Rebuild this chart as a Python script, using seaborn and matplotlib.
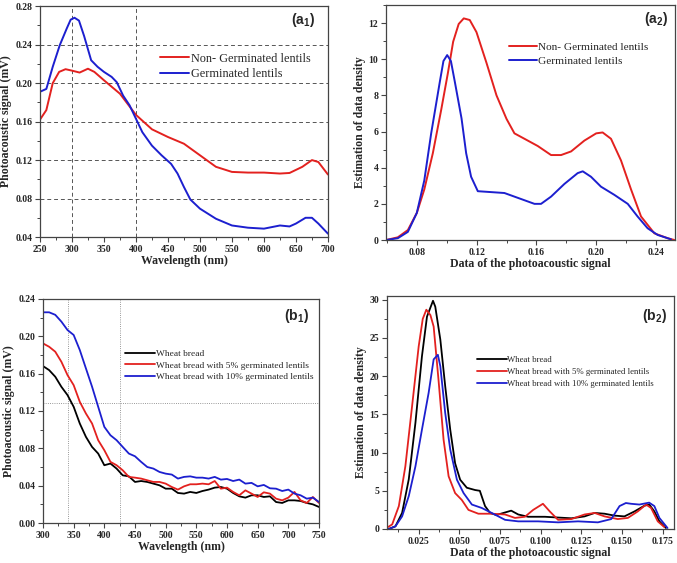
import numpy as np
import pandas as pd
import matplotlib
matplotlib.use("Agg")
import matplotlib.pyplot as plt
from matplotlib.ticker import MultipleLocator, FormatStrFormatter
import seaborn as sns

# -------------------------
# (a1) photoacoustic spectra of lentils
# -------------------------
a1_wl_red = [250, 260, 270, 280, 290, 300, 312, 325, 335, 350, 375, 400, 425, 450,
             475, 500, 525, 550, 575, 600, 625, 640, 660, 675, 685, 700]
a1_non_germ = [0.162, 0.172, 0.200, 0.2117, 0.2145, 0.213, 0.211, 0.215, 0.2117, 0.203,
               0.189, 0.167, 0.152, 0.144, 0.137, 0.125, 0.113, 0.1077, 0.107, 0.107,
               0.106, 0.1066, 0.113, 0.120, 0.118, 0.105]
a1_wl_blue = [250, 260, 270, 281, 292, 298, 304, 311, 319, 330, 340, 350, 362, 370, 380,
              390, 400, 410, 425, 440, 455, 465, 475, 485, 500, 525, 550, 575, 600, 625,
              640, 650, 665, 675, 685, 700]
a1_germ = [0.191, 0.194, 0.217, 0.2395, 0.257, 0.266, 0.268, 0.265, 0.249, 0.2238, 0.217,
           0.2117, 0.2065, 0.201, 0.187, 0.177, 0.163, 0.149, 0.135, 0.125, 0.116, 0.106,
           0.092, 0.079, 0.0695, 0.059, 0.052, 0.0497, 0.0487, 0.052, 0.051, 0.054, 0.060,
           0.060, 0.054, 0.0435]

# -------------------------
# (a2) density estimates for lentils
# -------------------------
a2_x_red = [0.0595, 0.0673, 0.074, 0.080, 0.085, 0.0907, 0.0963, 0.1007, 0.1043, 0.1080,
            0.1114, 0.1154, 0.1199, 0.1266, 0.1333, 0.140, 0.1453, 0.152, 0.1609, 0.1698,
            0.1765, 0.1832, 0.1921, 0.200, 0.2043, 0.2099, 0.2166, 0.2233, 0.230, 0.2389,
            0.2478, 0.2523]
a2_non_germ = [0.0, 0.15, 0.55, 1.5, 2.8, 4.8, 7.2, 9.2, 10.97, 11.95, 12.26, 12.17, 11.5,
               9.8, 8.0, 6.7, 5.9, 5.6, 5.2, 4.7, 4.7, 4.9, 5.5, 5.9, 5.95, 5.6, 4.4, 2.8,
               1.3, 0.37, 0.1, 0.0]
a2_x_blue = [0.0595, 0.0673, 0.074, 0.080, 0.085, 0.0896, 0.0954, 0.0978, 0.1003, 0.1028,
             0.1054, 0.1099, 0.113, 0.1163, 0.1208, 0.1297, 0.1386, 0.1453, 0.152, 0.1587,
             0.1631, 0.1698, 0.1787, 0.1876, 0.191, 0.1965, 0.2032, 0.2121, 0.2211, 0.2277,
             0.2344, 0.2411, 0.250]
a2_germ = [0.0, 0.1, 0.45, 1.5, 3.3, 5.9, 8.76, 9.9, 10.23, 9.9, 8.76, 6.73, 4.8, 3.5, 2.7,
           2.65, 2.6, 2.4, 2.2, 2.0, 2.0, 2.4, 3.1, 3.7, 3.8, 3.5, 2.95, 2.5, 2.0, 1.3, 0.65,
           0.28, 0.04]

# -------------------------
# (b1) photoacoustic spectra of breads
# -------------------------
b1_wl = [300, 310, 320, 330, 340, 350, 360, 370, 380, 390, 400, 410, 420, 430, 440, 450,
         460, 470, 480, 490, 500, 510, 520, 530, 540, 550, 560, 570, 580, 590, 600, 610,
         620, 630, 640, 650, 660, 670, 680, 690, 700, 710, 720, 730, 740, 750]
b1_wheat = [0.1681, 0.1638, 0.1567, 0.1459, 0.137, 0.1245, 0.1066, 0.0923, 0.0815, 0.0744,
            0.0619, 0.0637, 0.0583, 0.0511, 0.050, 0.044, 0.045, 0.044, 0.0422, 0.0404,
            0.0368, 0.0368, 0.0322, 0.0315, 0.0333, 0.0322, 0.0343, 0.0358, 0.0379, 0.0386,
            0.0368, 0.0322, 0.0286, 0.0272, 0.0297, 0.0297, 0.0279, 0.0286, 0.0225, 0.0215,
            0.0243, 0.0243, 0.0236, 0.0215, 0.020, 0.0172]
b1_wheat_5 = [0.1924, 0.1888, 0.1835, 0.1727, 0.1584, 0.1477, 0.1298, 0.1173, 0.1066,
              0.0887, 0.078, 0.0655, 0.0619, 0.0565, 0.0494, 0.0486, 0.0476, 0.0458, 0.044,
              0.044, 0.0422, 0.0386, 0.0358, 0.0393, 0.0415, 0.0415, 0.0422, 0.0415, 0.045,
              0.0368, 0.0379, 0.0333, 0.0297, 0.035, 0.0315, 0.0279, 0.0329, 0.0315, 0.0261,
              0.0243, 0.0272, 0.0333, 0.0243, 0.0215, 0.0279, 0.0215]
b1_wheat_10 = [0.2257, 0.2257, 0.223, 0.2157, 0.2067, 0.2014, 0.1853, 0.1656, 0.146,
               0.1245, 0.103, 0.094, 0.0887, 0.0815, 0.0744, 0.0715, 0.0655, 0.060, 0.0583,
               0.0547, 0.0529, 0.0519, 0.0476, 0.0494, 0.050, 0.0486, 0.0486, 0.0476,
               0.0494, 0.0465, 0.0472, 0.045, 0.0465, 0.0422, 0.043, 0.0393, 0.0408, 0.0372,
               0.0368, 0.0343, 0.0358, 0.0315, 0.0297, 0.0261, 0.0272, 0.0225]

# -------------------------
# (b2) density estimates for breads
# -------------------------
b2_x_black = [0.0066, 0.0107, 0.0148, 0.0189, 0.023, 0.027, 0.0301, 0.0338, 0.0352, 0.0383,
              0.0413, 0.0444, 0.0474, 0.0505, 0.0546, 0.0597, 0.0626, 0.0658, 0.0689, 0.0728,
              0.0819, 0.0862, 0.0923, 0.1026, 0.1107, 0.1189, 0.127, 0.1332, 0.1393, 0.1454,
              0.1515, 0.1577, 0.1638, 0.1668, 0.1699, 0.173, 0.177]
b2_wheat = [0.0, 0.35, 2.1, 6.5, 13.9, 22.6, 27.8, 29.87, 29.1, 24.8, 18.7, 13.0, 8.6, 6.45,
            5.4, 5.1, 5.0, 3.0, 2.1, 1.83, 2.4, 1.9, 1.6, 1.6, 1.5, 1.4, 1.65, 2.1, 2.0, 1.75,
            1.65, 2.3, 3.05, 3.2, 2.3, 1.0, 0.13]
b2_x_red = [0.0062, 0.0087, 0.0128, 0.0168, 0.0209, 0.025, 0.0275, 0.0297, 0.0322, 0.0342,
            0.0372, 0.0403, 0.0434, 0.0474, 0.0515, 0.0556, 0.0617, 0.0699, 0.0781, 0.0842,
            0.0903, 0.0954, 0.1014, 0.1056, 0.1107, 0.1189, 0.127, 0.1332, 0.1393, 0.1474,
            0.1536, 0.1597, 0.1648, 0.1679, 0.172, 0.176]
b2_wheat_5 = [0.26, 0.6, 3.0, 8.2, 16.0, 23.9, 27.5, 28.7, 28.0, 26.5, 19.5, 11.7, 6.9, 4.7,
              3.8, 2.5, 2.0, 2.0, 1.9, 1.45, 1.6, 2.5, 3.3, 2.3, 1.2, 1.3, 1.9, 2.1, 1.65,
              1.3, 1.45, 2.3, 3.2, 2.75, 1.0, 0.26]
b2_x_blue = [0.0066, 0.0107, 0.0148, 0.0189, 0.023, 0.027, 0.0311, 0.0342, 0.0368, 0.0383,
             0.0413, 0.0444, 0.0485, 0.0526, 0.0577, 0.0638, 0.0699, 0.0781, 0.0862, 0.0985,
             0.1107, 0.123, 0.1352, 0.1434, 0.1485, 0.1524, 0.1556, 0.1607, 0.1667, 0.1699,
             0.173, 0.178]
b2_wheat_10 = [0.0, 0.35, 1.65, 4.3, 8.2, 13.0, 17.8, 22.2, 22.8, 21.3, 15.2, 10.4, 6.45, 4.7,
               3.2, 2.75, 2.1, 1.2, 1.0, 1.0, 0.87, 1.0, 0.87, 1.3, 3.0, 3.4, 3.3, 3.2, 3.45,
               3.0, 1.45, 0.13]

lentil_labels = ["Non- Germinated lentils", "Germinated lentils"]
bread_labels = ["Wheat bread", "Wheat bread with 5% germinated lentils",
                "Wheat bread with 10% germinated lentils"]

RED = "#e3211f"
BLUE = "#1c1fcf"
BLACK = "#000000"

sns.set_style("ticks")
plt.rcParams["font.family"] = ["Liberation Serif", "DejaVu Serif"]
plt.rcParams["mathtext.fontset"] = "custom"
plt.rcParams["mathtext.rm"] = "Liberation Sans:bold"
plt.rcParams["mathtext.bf"] = "Liberation Sans:bold"
plt.rcParams["axes.edgecolor"] = "#444444"
plt.rcParams["axes.linewidth"] = 0.9


def long_df(pairs):
    frames = []
    for label, xs, ys in pairs:
        frames.append(pd.DataFrame({"x": xs, "y": ys, "series": label}))
    return pd.concat(frames, ignore_index=True)


def style_axes(ax, xlabel, ylabel, xmaj, ymaj, xfmt, yfmt, xlim, ylim):
    ax.set_xlim(*xlim)
    ax.set_ylim(*ylim)
    ax.xaxis.set_major_locator(MultipleLocator(xmaj))
    ax.xaxis.set_minor_locator(MultipleLocator(xmaj / 2))
    ax.yaxis.set_major_locator(MultipleLocator(ymaj))
    ax.yaxis.set_minor_locator(MultipleLocator(ymaj / 2))
    ax.xaxis.set_major_formatter(FormatStrFormatter(xfmt))
    ax.yaxis.set_major_formatter(FormatStrFormatter(yfmt))
    ax.tick_params(which="major", direction="out", length=3.5, width=0.8, labelsize=7,
                   color="#444444", pad=2)
    ax.tick_params(which="minor", direction="out", length=2, width=0.7, color="#444444")
    for lab in ax.get_xticklabels() + ax.get_yticklabels():
        lab.set_fontweight("bold")
    ax.set_xlabel(xlabel, fontsize=8.5, fontweight="bold", labelpad=1)
    ax.set_ylabel(ylabel, fontsize=8.5, fontweight="bold", labelpad=2)
    for s in ax.spines.values():
        s.set_visible(True)


fig = plt.figure(figsize=(6.77, 5.63), dpi=100)
ax1 = fig.add_axes([0.059, 0.579, 0.4254, 0.410])
ax2 = fig.add_axes([0.570, 0.5737, 0.427, 0.4174])
ax3 = fig.add_axes([0.0635, 0.0710, 0.4077, 0.398])
ax4 = fig.add_axes([0.5716, 0.0604, 0.424, 0.4139])

# ---- a1
for yv in [0.08, 0.12, 0.16, 0.20, 0.24]:
    ax1.axhline(yv, color="#555555", lw=0.7, ls=(0, (4, 3)), zorder=0)
for xv in [300, 400]:
    ax1.axvline(xv, color="#555555", lw=0.7, ls=(0, (4, 3)), zorder=0)
d = long_df([(lentil_labels[0], a1_wl_red, a1_non_germ),
             (lentil_labels[1], a1_wl_blue, a1_germ)])
sns.lineplot(data=d, x="x", y="y", hue="series", palette=[RED, BLUE], lw=1.4, ax=ax1,
             estimator=None, sort=False)
style_axes(ax1, "Wavelength (nm)", "Photoacoustic signal (mV)", 50, 0.04, "%d", "%.2f",
           (250, 700), (0.04, 0.28))
ax1.legend(loc="upper left", bbox_to_anchor=(0.40, 0.82), frameon=False, fontsize=8.8,
           handlelength=2.4, handletextpad=0.1, labelspacing=0.3, borderaxespad=0)
ax1.text(0.955, 0.94, r"(a$_{\mathbf{1}}$)", transform=ax1.transAxes, ha="right", va="center",
         fontsize=10, fontweight="bold", family="Liberation Sans")

# ---- a2
d = long_df([(lentil_labels[0], a2_x_red, a2_non_germ),
             (lentil_labels[1], a2_x_blue, a2_germ)])
sns.lineplot(data=d, x="x", y="y", hue="series", palette=[RED, BLUE], lw=1.4, ax=ax2,
             estimator=None, sort=False)
style_axes(ax2, "Data of the photoacoustic signal", "Estimation of data density", 0.04, 2,
           "%.2f", "%d", (0.0593, 0.2527), (0, 13))
ax2.legend(loc="upper left", bbox_to_anchor=(0.41, 0.86), frameon=False, fontsize=8.1,
           handlelength=2.5, handletextpad=0.1, labelspacing=0.35, borderaxespad=0)
ax2.text(0.975, 0.94, r"(a$_{\mathbf{2}}$)", transform=ax2.transAxes, ha="right", va="center",
         fontsize=10, fontweight="bold", family="Liberation Sans")

# ---- b1
ax3.axvline(340, color="#777777", lw=0.6, ls=":", zorder=0)
ax3.axvline(425, color="#777777", lw=0.6, ls=":", zorder=0)
ax3.axhline(0.129, color="#777777", lw=0.6, ls=":", zorder=0)
d = long_df([(bread_labels[0], b1_wl, b1_wheat),
             (bread_labels[1], b1_wl, b1_wheat_5),
             (bread_labels[2], b1_wl, b1_wheat_10)])
sns.lineplot(data=d, x="x", y="y", hue="series", palette=[BLACK, RED, BLUE], lw=1.3,
             ax=ax3, estimator=None, sort=False)
style_axes(ax3, "Wavelength (nm)", "Photoacoustic signal (mV)", 50, 0.04, "%d", "%.2f",
           (300, 750), (0, 0.24))
ax3.legend(loc="upper left", bbox_to_anchor=(0.285, 0.79), frameon=False, fontsize=6.75,
           handlelength=3.2, handletextpad=0.1, labelspacing=0.3, borderaxespad=0)
ax3.text(0.965, 0.925, r"(b$_{\mathbf{1}}$)", transform=ax3.transAxes, ha="right",
         va="center", fontsize=10, fontweight="bold", family="Liberation Sans")

# ---- b2
d = long_df([(bread_labels[0], b2_x_black, b2_wheat),
             (bread_labels[1], b2_x_red, b2_wheat_5),
             (bread_labels[2], b2_x_blue, b2_wheat_10)])
sns.lineplot(data=d, x="x", y="y", hue="series", palette=[BLACK, RED, BLUE], lw=1.3,
             ax=ax4, estimator=None, sort=False)
style_axes(ax4, "Data of the photoacoustic signal", "Estimation of data density", 0.025, 5,
           "%.3f", "%d", (0.0055, 0.182), (0, 30.5))
ax4.legend(loc="upper left", bbox_to_anchor=(0.30, 0.76), frameon=False, fontsize=6.35,
           handlelength=3.4, handletextpad=0.1, labelspacing=0.45, borderaxespad=0)
ax4.text(0.975, 0.915, r"(b$_{\mathbf{2}}$)", transform=ax4.transAxes, ha="right",
         va="center", fontsize=10, fontweight="bold", family="Liberation Sans")

fig.savefig("out.png", dpi=100)
